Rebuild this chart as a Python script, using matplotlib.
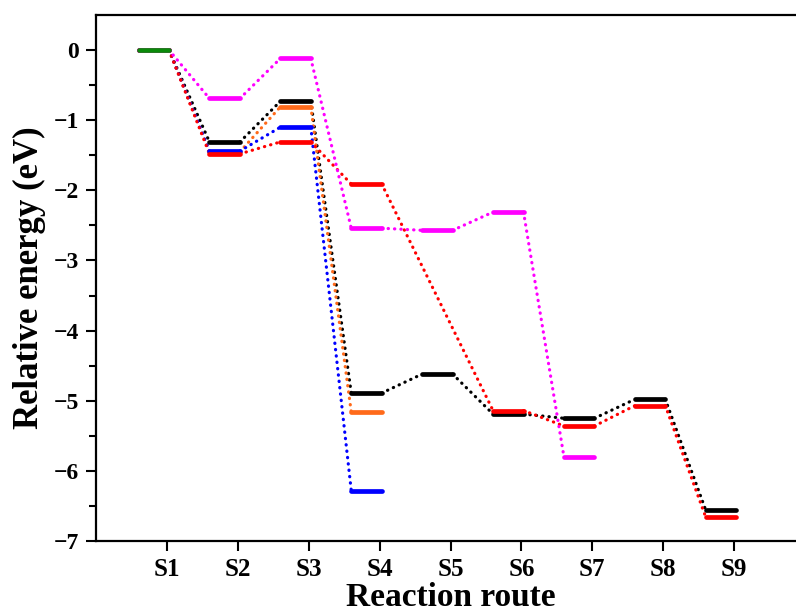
import numpy as np
import matplotlib.pyplot as plt

plt.rcParams['font.family'] = ['Liberation Serif', 'DejaVu Serif']
plt.rcParams['font.weight'] = 'bold'

# data (eV), nan = state not reached

steps = ['S1', 'S2', 'S3', 'S4', 'S5', 'S6', 'S7', 'S8', 'S9']
nan = np.nan

black = [0, -1.31, -0.73, -4.89, -4.62, -5.19, -5.25, -4.98, -6.56]
orange = [0, -1.45, -0.81, -5.16, nan, nan, nan, nan, nan]
blue = [0, -1.44, -1.10, -6.28, nan, nan, nan, nan, nan]
red = [0, -1.48, -1.31, -1.91, nan, -5.14, -5.36, -5.07, -6.66]
magenta = [0, -0.69, -0.12, -2.54, -2.57, -2.31, -5.80, nan, nan]
green = [0, nan, nan, nan, nan, nan, nan, nan, nan]

series = [(black, 'black'), (orange, '#ff6a1a'), (blue, '#0000ff'),
          (red, '#ff0000'), (magenta, '#ff00ff'), (green, '#0a8a0a')]

left_off = 0.40
right_off = 0.03


def draw_path(ax, values, color):
    x = np.arange(1, len(values) + 1)
    v = np.array(values, dtype=float)
    idx = np.where(~np.isnan(v))[0]
    # dotted connectors between consecutive reached states
    for a, b in zip(idx[:-1], idx[1:]):
        ax.plot([x[a] + right_off, x[b] - left_off], [v[a], v[b]],
                linestyle=(0, (0.1, 1.9)), linewidth=2.3, color=color,
                dash_capstyle='round', zorder=2)
    # energy levels
    for i in idx:
        ax.plot([x[i] - left_off, x[i] + right_off], [v[i], v[i]],
                linewidth=3.4, color=color, solid_capstyle='round', zorder=3)


fig = plt.figure(figsize=(7.96, 6.15), dpi=100)
ax = fig.add_axes([96 / 796, 74 / 615, 709 / 796, 526 / 615])

for values, color in series:
    draw_path(ax, values, color)

ax.set_xlim(0, 10)
ax.set_ylim(-7, 0.5)
ax.set_xticks(np.arange(1, len(steps) + 1))
ax.set_xticklabels(steps)
ax.set_yticks(np.arange(-7, 1))
ax.set_yticks(np.arange(-6.5, 0.5, 1), minor=True)

ax.tick_params(axis='x', direction='out', length=7, width=1.5, labelsize=18, pad=5)
ax.tick_params(axis='y', which='major', direction='out', length=7, width=1.5, labelsize=17, pad=5)
ax.tick_params(axis='y', which='minor', direction='out', length=5, width=1.5)
for lab in ax.get_xticklabels() + ax.get_yticklabels():
    lab.set_fontweight('bold')

for s in ax.spines.values():
    s.set_linewidth(1.6)
ax.spines['right'].set_visible(False)

ax.set_xlabel('Reaction route', fontsize=24, fontweight='bold', labelpad=1)
ax.set_ylabel('Relative energy (eV)', fontsize=25, fontweight='bold', labelpad=6)

fig.savefig('out.png', dpi=100)
